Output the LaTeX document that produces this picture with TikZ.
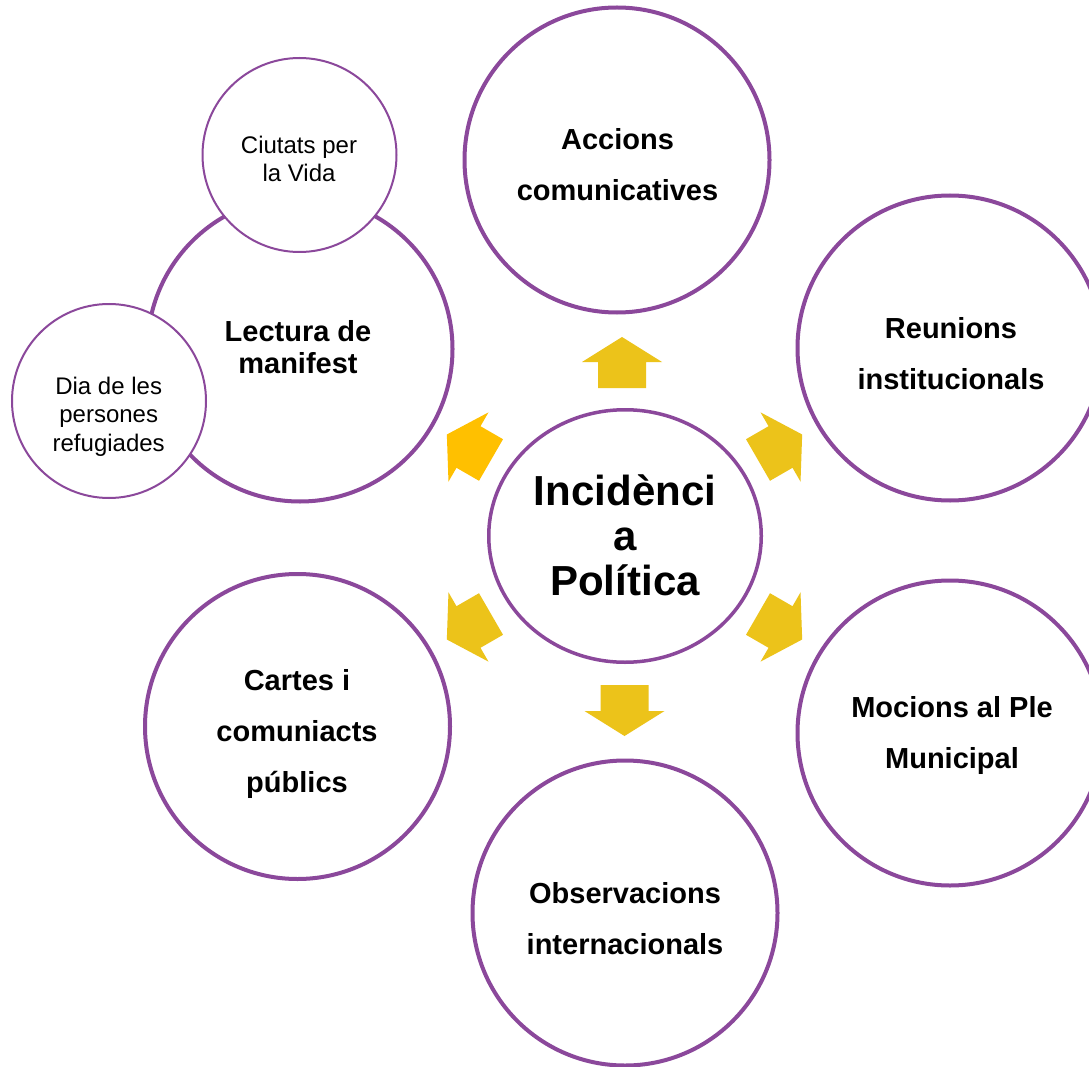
\documentclass[tikz,border=0pt]{standalone}
\usepackage{fontspec}
\setmainfont{Liberation Sans}
\usetikzlibrary{shapes.geometric}
\definecolor{vio}{RGB}{139,72,155}
\definecolor{gold}{RGB}{236,195,26}
\definecolor{amber}{RGB}{255,192,0}
\tikzset{
  fatarrow/.pic={\path[pic actions] (0,-24) -- (26,-24) -- (26,-40) -- (51,0) -- (26,40) -- (26,24) -- (0,24) -- cycle;},
  bigc/.style={circle, draw=vio, line width=4pt, fill=white, minimum size=305pt, inner sep=0pt},
  smallc/.style={circle, draw=vio, line width=2pt, fill=white, minimum size=194pt, inner sep=0pt},
  ctrc/.style={ellipse, draw=vio, line width=3.5pt, fill=white, minimum width=272.5pt, minimum height=252.5pt, inner sep=0pt},
  bigt/.style={align=center, inner sep=0pt, font=\fontsize{29}{51}\selectfont\bfseries},
  lect/.style={align=center, inner sep=0pt, font=\fontsize{29}{32}\selectfont\bfseries},
  ctrt/.style={align=center, inner sep=0pt, font=\fontsize{42}{45}\selectfont\bfseries},
  smallt/.style={align=center, inner sep=0pt, font=\fontsize{24}{28.5}\selectfont}
}
\begin{document}
\begin{tikzpicture}[x=1pt,y=-1pt]
\useasboundingbox (0,0) rectangle (1089,1067);
\fill[white] (0,0) rectangle (1089,1067);
% arrows
\pic (aup) [fill=gold, rotate=90] at (622,388) {fatarrow};
\pic (adn) [fill=gold, rotate=-90] at (624.5,685) {fatarrow};
\pic (aur) [fill=gold, rotate=30] at (758,460) {fatarrow};
\pic (alr) [fill=gold, rotate=-30] at (758,614) {fatarrow};
\pic (all) [fill=gold, rotate=-150] at (491,614) {fatarrow};
\pic (aul) [fill=amber, rotate=150] at (491,460) {fatarrow};
% circles
\node[ctrc] (ctr) at (625,536) {};
\node[bigc] (acc) at (617,160) {};
\node[bigc] (reu) at (950,348) {};
\node[bigc] (moc) at (950,733) {};
\node[bigc] (obs) at (625,913) {};
\node[bigc] (car) at (297.5,726.5) {};
\node[bigc] (lec) at (300,349) {};
\node[smallc] (ciu) at (299.5,155) {};
\node[smallc] (dia) at (109,401) {};
% texts
\node[ctrt] (ctrT) at (625,535) {Incidènci\\a\\Política};
\node[bigt] (accT) at (617.5,165) {Accions\\comunicatives};
\node[bigt] (reuT) at (951,354) {Reunions\\institucionals};
\node[bigt] (mocT) at (952,735) {Mocions al Ple\\Municipal};
\node[bigt] (obsT) at (625,919) {Observacions\\internacionals};
\node[bigt] (carT) at (297,733.5) {Cartes i\\comuniacts\\públics};
\node[lect] (lecT) at (298,347) {Lectura de\\manifest};
\node[smallt] (ciuT) at (299,159) {Ciutats per\\la Vida};
\node[smallt] (diaT) at (108.7,416.4) {Dia de les\\persones\\refugiades};
\end{tikzpicture}
\end{document}
